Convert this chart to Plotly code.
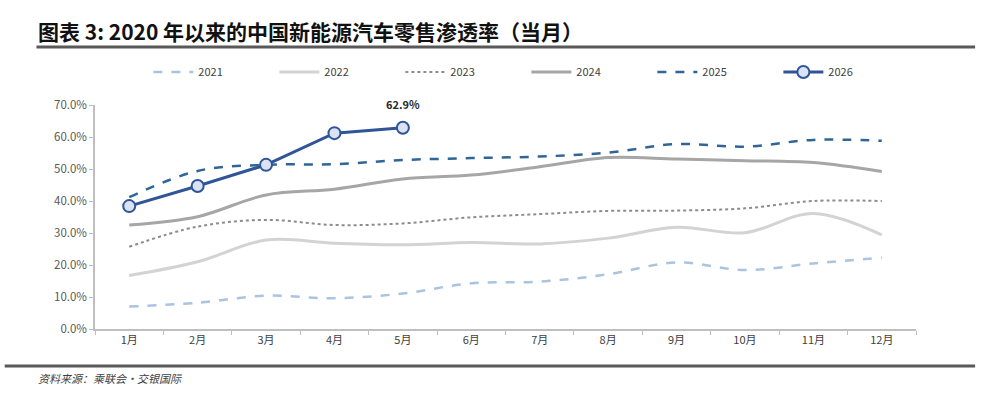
import plotly.graph_objects as go

months = ["1月", "2月", "3月", "4月", "5月", "6月", "7月", "8月", "9月", "10月", "11月", "12月"]
y2021 = [7.0, 8.2, 10.4, 9.6, 11.1, 14.3, 14.8, 17.1, 20.8, 18.4, 20.5, 22.3]
y2022 = [16.7, 21.0, 27.8, 26.8, 26.3, 27.0, 26.6, 28.4, 31.8, 30.1, 36.1, 29.4]
y2023 = [25.7, 32.0, 34.1, 32.5, 33.0, 34.9, 35.9, 36.9, 37.0, 37.7, 40.0, 40.0]
y2024 = [32.5, 35.1, 41.9, 43.7, 46.9, 48.1, 50.7, 53.6, 53.1, 52.6, 52.0, 49.2]
y2025 = [41.2, 49.4, 51.3, 51.5, 52.8, 53.4, 53.9, 55.1, 57.8, 57.0, 59.1, 58.8]
y2026 = [38.4, 44.7, 51.3, 61.2, 62.9]

FONT = "Noto Sans CJK SC"

fig = go.Figure()
series = [
    ("2021", y2021, dict(color="#a9c4e0", width=2.5, dash="dash"), "spline"),
    ("2022", y2022, dict(color="#d3d3d3", width=3), "spline"),
    ("2023", y2023, dict(color="#8c8c8c", width=2, dash="dot"), "spline"),
    ("2024", y2024, dict(color="#a6a6a6", width=3), "spline"),
    ("2025", y2025, dict(color="#2f6597", width=2.5, dash="dash"), "spline"),
]
for name, ys, line, shape in series:
    line = dict(line)
    line["shape"] = shape
    fig.add_trace(go.Scatter(x=months[:len(ys)], y=ys, name=name, mode="lines",
                             line=line))
fig.add_trace(go.Scatter(x=months[:len(y2026)], y=y2026, name="2026", mode="lines+markers",
                         line=dict(color="#2f5597", width=3),
                         marker=dict(symbol="circle", size=12, color="#dae3f3",
                                     line=dict(color="#2f5597", width=2))))

fig.add_annotation(x=months[4], y=y2026[4], text="<b>62.9%</b>", showarrow=False,
                   yshift=24, font=dict(size=11, color="#262626", family=FONT))

# title / source / rules
fig.add_annotation(xref="paper", yref="paper", x=-0.0713, y=1.33, xanchor="left", yanchor="middle",
                   text="<b>图表 3: 2020 年以来的中国新能源汽车零售渗透率（当月）</b>", showarrow=False,
                   font=dict(size=21, color="#111111", family=FONT))
fig.add_annotation(xref="paper", yref="paper", x=-0.0713, y=-0.22, xanchor="left", yanchor="middle",
                   text="<i>资料来源：乘联会・交银国际</i>", showarrow=False,
                   font=dict(size=11, color="#404040", family=FONT))
fig.add_shape(type="line", xref="paper", yref="paper", x0=-0.0713, x1=1.072, y0=1.259, y1=1.259,
              line=dict(color="#595959", width=3))
fig.add_shape(type="line", xref="paper", yref="paper", x0=-0.11, x1=1.072, y0=-0.165, y1=-0.165,
              line=dict(color="#595959", width=3))

fig.update_layout(
    width=986, height=408,
    margin=dict(l=95, r=70, t=105, b=79),
    plot_bgcolor="white", paper_bgcolor="white",
    font=dict(family=FONT, size=11, color="#404040"),
    showlegend=True,
    legend=dict(orientation="h", x=0.065, y=1.147, xanchor="left", yanchor="middle",
                entrywidth=71, entrywidthmode="pixels", font=dict(size=11, color="#404040"),
                bgcolor="rgba(0,0,0,0)", itemwidth=40),
    xaxis=dict(showgrid=False, showline=True, linecolor="#bfbfbf", linewidth=1.5,
               ticks="outside", tickson="boundaries", ticklen=4, tickcolor="#bfbfbf",
               tickfont=dict(size=11, color="#404040"), range=[-0.5, 11.5]),
    yaxis=dict(range=[0, 70], dtick=10, showgrid=False, showline=True, linecolor="#bfbfbf",
               linewidth=1.5, ticks="outside", ticklen=4, tickcolor="#bfbfbf",
               ticksuffix="%", tickformat=".1f", tickfont=dict(size=11.5, color="#595959"),
               zeroline=False),
)
fig.write_html("out.html")
